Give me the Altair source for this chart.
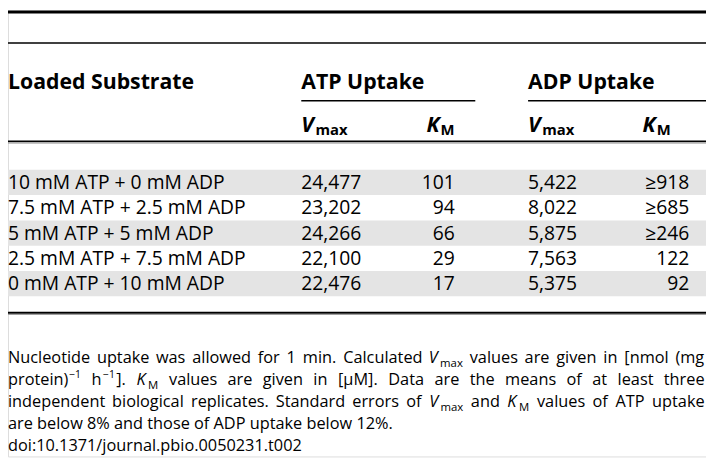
import altair as alt
import pandas as pd

# ---------------- data ----------------
substrates = [
    "10 mM ATP + 0 mM ADP",
    "7.5 mM ATP + 2.5 mM ADP",
    "5 mM ATP + 5 mM ADP",
    "2.5 mM ATP + 7.5 mM ADP",
    "0 mM ATP + 10 mM ADP",
]
atp_vmax = [24477, 23202, 24266, 22100, 22476]
atp_km = [101, 94, 66, 29, 17]
adp_vmax = [5422, 8022, 5875, 7563, 5375]
adp_km = [918, 685, 246, 122, 92]
adp_km_lower_bound = [True, True, True, False, False]

col_headers = ["Loaded Substrate", "ATP Uptake", "ADP Uptake"]

# footnote: lines -> words -> pieces (text, kind)
N, I, SUB, SUP = "n", "i", "sub", "sup"
footnote_lines = [
    [[("Nucleotide", N)], [("uptake", N)], [("was", N)], [("allowed", N)], [("for", N)], [("1", N)],
     [("min.", N)], [("Calculated", N)], [("V", I), ("max", SUB)], [("values", N)], [("are", N)],
     [("given", N)], [("in", N)], [("[nmol", N)], [("(mg", N)]],
    [[("protein)", N), ("\u22121", SUP)], [("h", N), ("\u22121", SUP), ("].", N)], [("K", I), ("M", SUB)],
     [("values", N)], [("are", N)], [("given", N)], [("in", N)], [("[\u03bcM].", N)], [("Data", N)],
     [("are", N)], [("the", N)], [("means", N)], [("of", N)], [("at", N)], [("least", N)], [("three", N)]],
    [[("independent", N)], [("biological", N)], [("replicates.", N)], [("Standard", N)], [("errors", N)],
     [("of", N)], [("V", I), ("max", SUB)], [("and", N)], [("K", I), ("M", SUB)], [("values", N)],
     [("of", N)], [("ATP", N)], [("uptake", N)]],
    [[("are below 8% and those of ADP uptake below 12%.", N)]],
    [[("doi:10.1371/journal.pbio.0050231.t002", N)]],
]
footnote_justified = [True, True, True, False, False]

# ---------------- layout (reference pixel space 714 x 467) ----------------
REF_W, REF_H = 714, 467
W, H = 706, 451
FONT = "Open Sans"
FOOT_SIZE = {N: 16.5, I: 16.5, SUB: 11.5, SUP: 10.5}
foot_base = [369, 392, 415, 438, 461]
row_center0, row_step = 180, 26.5

# approximate advance widths (em) of the font, used to justify the footnote
CW = {" ": .26, "a": .556, "b": .613, "c": .476, "d": .613, "e": .561, "f": .339, "g": .548, "h": .614,
      "i": .253, "j": .253, "k": .525, "l": .253, "m": .93, "n": .614, "o": .604, "p": .613, "q": .613,
      "r": .408, "s": .477, "t": .353, "u": .614, "v": .501, "w": .778, "x": .524, "y": .502, "z": .477,
      "A": .633, "B": .656, "C": .631, "D": .738, "E": .549, "K": .6, "M": .912, "N": .784, "P": .601,
      "S": .55, "T": .556, "V": .58, "0": .572, "1": .572, "2": .572, "3": .572, "4": .572, "5": .572,
      "6": .572, "7": .572, "8": .572, "9": .572, ".": .266, ",": .245, ":": .266, "/": .367, "(": .295,
      ")": .295, "[": .329, "]": .329, "%": .831, "\u2212": .572, "\u03bc": .62}


def text_w(t, size):
    return sum(CW.get(ch, .56) for ch in t) * size


def piece_gap(prev_kind):
    return 2.0 if prev_kind == I else 1.5


xs = alt.Scale(domain=[0, REF_W], nice=False, zero=False)
ys = alt.Scale(domain=[0, REF_H], nice=False, zero=False, reverse=True)


def X(f="x"):
    return alt.X(f"{f}:Q", scale=xs, axis=None)


def Y(f="y"):
    return alt.Y(f"{f}:Q", scale=ys, axis=None)


# ---------------- bands ----------------
bands = pd.DataFrame(
    [{"x": 0, "x2": REF_W, "y": row_center0 + i * row_step - 13.2, "y2": row_center0 + i * row_step + 13.3}
     for i in range(len(substrates)) if i % 2 == 0]
)
band_layer = alt.Chart(bands).mark_rect(color="#e4e4e4").encode(
    x=X(), x2="x2:Q", y=Y(), y2="y2:Q"
)

# ---------------- rules ----------------
rules = pd.DataFrame([
    {"x": 0, "x2": REF_W, "y": 1.5, "w": 3.0, "c": "#000000"},
    {"x": 0, "x2": REF_W, "y": 34, "w": 1.6, "c": "#000000"},
    {"x": 300, "x2": 478, "y": 94.5, "w": 1.6, "c": "#000000"},
    {"x": 532, "x2": REF_W, "y": 94.5, "w": 1.6, "c": "#000000"},
    {"x": 0, "x2": REF_W, "y": 137, "w": 1.6, "c": "#000000"},
    {"x": 0, "x2": REF_W, "y": 138.8, "w": 1.0, "c": "#9a9a9a"},
    {"x": 0, "x2": REF_W, "y": 316.5, "w": 2.0, "c": "#000000"},
    {"x": 0, "x2": REF_W, "y": 318.3, "w": 1.0, "c": "#9a9a9a"},
])
rule_layer = alt.Chart(rules).mark_rule().encode(
    x=X(), x2="x2:Q", y=Y(),
    strokeWidth=alt.StrokeWidth("w:Q", scale=None, legend=None),
    color=alt.Color("c:N", scale=None, legend=None),
)

# ---------------- text segments ----------------
segs = []  # text, x, y(baseline), style, align

segs.append((col_headers[0], 0, 82, "head", "left"))
segs.append((col_headers[1], 300, 82, "head", "left"))
segs.append((col_headers[2], 532, 82, "head", "left"))
for vx, kx in [(300, 428), (532, 649)]:
    segs.append(("V", vx, 127.5, "headi", "left"))
    segs.append(("max", vx + 14.5, 130, "headsub", "left"))
    segs.append(("K", kx, 127.5, "headi", "left"))
    segs.append(("M", kx + 14.5, 130, "headsub", "left"))

for i, s in enumerate(substrates):
    yb = row_center0 + i * row_step + 7
    segs.append((s, 0, yb, "cell", "left"))
    segs.append((f"{atp_vmax[i]:,}", 300, yb, "cell", "left"))
    segs.append((f"{atp_km[i]}", 457, yb, "cell", "right"))
    segs.append((f"{adp_vmax[i]:,}", 532, yb, "cell", "left"))
    km = ("\u2265" if adp_km_lower_bound[i] else "") + f"{adp_km[i]}"
    segs.append((km, 697, yb, "cell", "right"))

# footnote: justified layout
style_of = {N: "foot", I: "footi", SUB: "footsub", SUP: "footsup"}
for li, words in enumerate(footnote_lines):
    widths = []
    for w in words:
        tot = 0
        for k, (t, kind) in enumerate(w):
            tot += text_w(t, FOOT_SIZE[kind]) + (piece_gap(w[k - 1][1]) if k > 0 else 0)
        widths.append(tot)
    if footnote_justified[li] and len(words) > 1:
        gap = (REF_W - 2 - sum(widths)) / (len(words) - 1)
    else:
        gap = CW[" "] * FOOT_SIZE[N]
    x = 0.0
    for w, wd in zip(words, widths):
        px = x
        for k, (t, kind) in enumerate(w):
            if k > 0:
                px += piece_gap(w[k - 1][1])
            yb = foot_base[li] + (4 if kind == SUB else (-7 if kind == SUP else 0))
            segs.append((t, px, yb, style_of[kind], "left"))
            px += text_w(t, FOOT_SIZE[kind])
        x += wd + gap

seg_df = pd.DataFrame(segs, columns=["text", "x", "y", "style", "align"])

styles = {
    "head": dict(fontSize=21.5, fontWeight="bold"),
    "headi": dict(fontSize=21.5, fontWeight="bold", fontStyle="italic"),
    "headsub": dict(fontSize=15, fontWeight="bold"),
    "cell": dict(fontSize=19.5),
    "foot": dict(fontSize=FOOT_SIZE[N]),
    "footi": dict(fontSize=FOOT_SIZE[I], fontStyle="italic"),
    "footsub": dict(fontSize=FOOT_SIZE[SUB]),
    "footsup": dict(fontSize=FOOT_SIZE[SUP]),
}

text_layers = []
for (style, align), g in seg_df.groupby(["style", "align"]):
    text_layers.append(
        alt.Chart(g).mark_text(
            align=align, baseline="alphabetic", font=FONT, color="#000000", **styles[style]
        ).encode(x=X(), y=Y(), text="text:N")
    )

chart = alt.layer(band_layer, rule_layer, *text_layers).properties(
    width=W, height=H, padding=0, autosize=alt.AutoSizeParams(type="none")
).configure_view(strokeWidth=0).configure(background="white")

chart.save("out.html", embed_options={"renderer": "svg", "actions": False})
